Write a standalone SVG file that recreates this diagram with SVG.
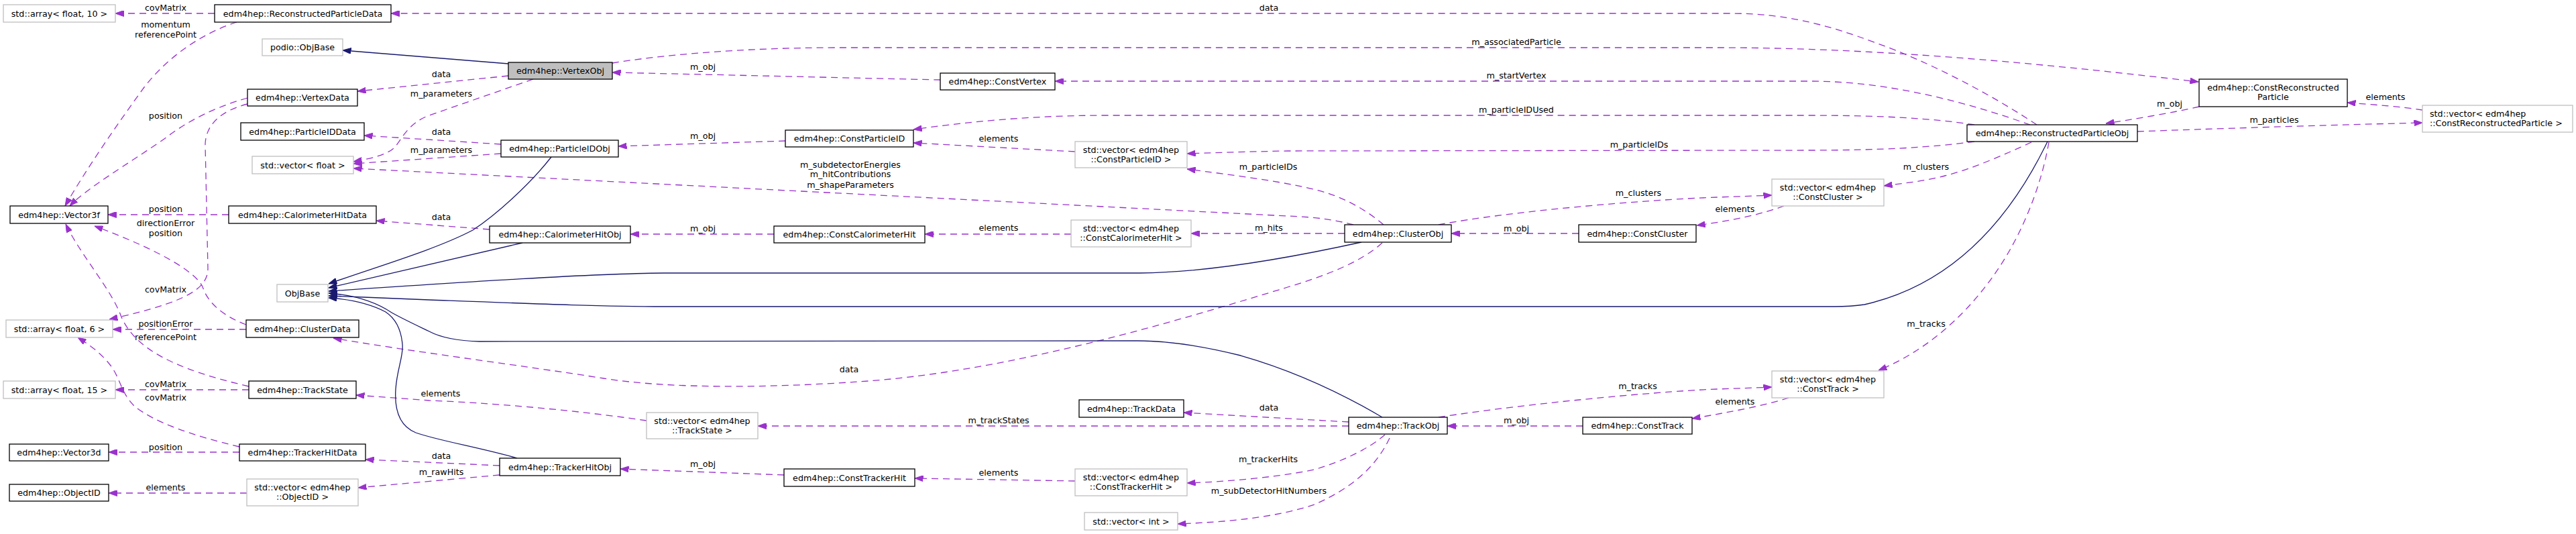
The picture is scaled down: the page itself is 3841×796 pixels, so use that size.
<svg xmlns="http://www.w3.org/2000/svg" width="3841" height="796" viewBox="0 0 3841 796">
<style>
.n rect{fill:#fff;stroke:#000;stroke-width:1.3}
.n.u rect{stroke:#bfbfbf}
.n.g rect{fill:#bfbfbf}
text{font-family:"DejaVu Sans","Liberation Sans",sans-serif;font-size:12.7px;fill:#000;text-anchor:middle}
text.l{text-anchor:start}
.e{fill:none;stroke:#9a32cd;stroke-width:1.3;stroke-dasharray:10,7;marker-end:url(#ap)}
.i{fill:none;stroke:#191970;stroke-width:1.3;marker-end:url(#ab)}
</style>
<defs>
<marker id="ap" markerWidth="12.5" markerHeight="9" refX="12.5" refY="4.5" orient="auto" markerUnits="userSpaceOnUse" viewBox="0 0 12.5 9"><path d="M0,0 L12.5,4.5 L0,9 z" fill="#9a32cd" stroke="#9a32cd" stroke-width="1"/></marker>
<marker id="ab" markerWidth="12.5" markerHeight="9" refX="12.5" refY="4.5" orient="auto" markerUnits="userSpaceOnUse" viewBox="0 0 12.5 9"><path d="M0,0 L12.5,4.5 L0,9 z" fill="#191970" stroke="#191970" stroke-width="1"/></marker>
</defs>
<rect width="3841" height="796" fill="#fff"/>
<g id="connectors">
<path class="e" d="M320,20 L172,20"/>
<path class="e" d="M353,33 C300,50 250,85 215,130 C175,185 130,250 97,307"/>
<path class="e" d="M3037,186 C2960,135 2870,90 2800,65 C2720,35 2660,20 2580,20 L583,20"/>
<path class="i" d="M758,95 L511,75"/>
<path class="e" d="M758,113 L533,136"/>
<path class="e" d="M795,118 L640,172 C610,183 600,205 590,218 C580,230 555,236 527,241"/>
<path class="e" d="M913,94 C980,83 1100,71 1250,71 L2560,71 C2800,71 3050,95 3278,122"/>
<path class="e" d="M1402,119 C1300,117 1100,112 913,108"/>
<path class="e" d="M3027,186 C2940,155 2820,121 2700,121 L1573,121"/>
<path class="e" d="M2944,186 C2880,176 2800,172 2700,172 L1650,172 C1520,172 1420,185 1362,193"/>
<path class="e" d="M2944,211 C2880,220 2800,224 2700,224 L1920,225 C1860,226 1800,228 1770,229"/>
<path class="e" d="M2063,335 C2040,315 2010,298 1980,288 C1930,272 1830,260 1770,252"/>
<path class="e" d="M2018,335 C1985,326 1950,323 1920,322 L527,251"/>
<path class="e" d="M747,215 L543,202"/>
<path class="e" d="M747,229 L527,244"/>
<path class="e" d="M1171,210 L922,218"/>
<path class="e" d="M1603,226 L1362,213"/>
<path class="e" d="M730,342 L561,329"/>
<path class="e" d="M1154,349 L940,349"/>
<path class="e" d="M1597,349 L1379,349"/>
<path class="e" d="M2005,348 L1776,348"/>
<path class="e" d="M2354,348 L2164,348"/>
<path class="e" d="M2660,307 C2630,318 2590,328 2530,336"/>
<path class="e" d="M2145,335 C2250,315 2450,298 2560,294 C2590,293 2620,292 2642,291"/>
<path class="e" d="M3029,212 C2990,230 2940,252 2900,262 C2870,270 2840,273 2809,277"/>
<path class="e" d="M3279,159 C3240,168 3180,178 3140,184"/>
<path class="e" d="M3187,196 C3300,192 3450,187 3612,183"/>
<path class="e" d="M3612,164 C3580,159 3540,156 3500,153"/>
<path class="e" d="M3055,212 C3045,270 3020,340 2980,400 C2940,460 2880,520 2801,552"/>
<path class="e" d="M2145,622 C2300,598 2500,582 2560,580 C2590,579 2620,578 2642,577"/>
<path class="e" d="M2667,593 C2630,605 2580,614 2523,624"/>
<path class="e" d="M2360,635 L2158,635"/>
<path class="e" d="M2011,629 L1765,615"/>
<path class="e" d="M2011,635 L1130,635"/>
<path class="e" d="M964,627 C850,610 720,600 640,597 L531,589"/>
<path class="e" d="M371,576 C260,550 200,520 180,470 C165,430 120,380 98,334"/>
<path class="e" d="M367,484 C330,470 310,450 303,430 C295,405 230,370 141,337"/>
<path class="e" d="M369,155 C330,165 307,185 306,215 L310,400 C310,430 280,450 163,476"/>
<path class="e" d="M369,146 C320,160 280,180 245,207 C190,245 130,280 104,307"/>
<path class="e" d="M341,320 L161,320"/>
<path class="e" d="M367,491 L168,491"/>
<path class="e" d="M371,581 L172,581"/>
<path class="e" d="M357,666 C290,650 230,630 200,605 C180,585 180,565 165,545 C150,525 130,512 116,503"/>
<path class="e" d="M357,674 L162,674"/>
<path class="e" d="M368,735 L162,735"/>
<path class="e" d="M745,694 L545,685"/>
<path class="e" d="M745,708 L534,727"/>
<path class="e" d="M1169,708 L925,699"/>
<path class="e" d="M1603,717 L1364,713"/>
<path class="e" d="M2065,648 C2040,670 2000,688 1960,700 C1900,712 1830,718 1770,720"/>
<path class="e" d="M2072,653 C2050,700 2010,730 1960,752 C1900,772 1830,778 1756,781"/>
<path class="e" d="M2061,362 C2030,390 1980,410 1920,428 C1750,480 1500,555 1280,569 C1150,578 1000,580 900,564 C780,545 620,525 497,504"/>
<path class="i" d="M822,234 C790,275 740,320 705,343 C650,372 560,398 490,423"/>
<path class="i" d="M779,362 L490,429"/>
<path class="i" d="M2030,361 C1930,383 1800,406 1700,407 L990,407 C880,408 700,420 490,434"/>
<path class="i" d="M3053,211 C3010,300 2930,420 2780,454 C2760,457 2745,457 2735,457 L990,457 C900,457 800,453 640,447 C600,445 540,443 490,441"/>
<path class="i" d="M2061,622 C1990,580 1920,550 1850,530 C1790,515 1740,508 1696,508 L715,509 C680,508 655,502 640,494 C615,482 600,475 584,466 C560,450 530,440 490,437"/>
<path class="i" d="M771,683 C720,668 650,656 620,645 C595,635 588,610 590,580 C592,550 602,530 600,513 C598,490 590,475 575,465 C550,452 520,446 490,444"/>
<g id="edge-labels">
<text x="247" y="16.2">covMatrix</text>
<text x="247" y="41.2">momentum</text>
<text x="247" y="56.2">referencePoint</text>
<text x="247" y="177.2">position</text>
<text x="247" y="316.2">position</text>
<text x="247" y="337.2">directionError</text>
<text x="247" y="352.2">position</text>
<text x="247" y="436.2">covMatrix</text>
<text x="247" y="487.2">positionError</text>
<text x="247" y="507.2">referencePoint</text>
<text x="247" y="577.2">covMatrix</text>
<text x="247" y="597.2">covMatrix</text>
<text x="247" y="671.2">position</text>
<text x="247" y="731.2">elements</text>
<text x="658" y="115.2">data</text>
<text x="658" y="143.5">m_parameters</text>
<text x="658" y="201.2">data</text>
<text x="658" y="227.5">m_parameters</text>
<text x="658" y="327.5">data</text>
<text x="658" y="683.8">data</text>
<text x="658" y="707.8">m_rawHits</text>
<text x="657" y="591.2">elements</text>
<text x="1048" y="103.8">m_obj</text>
<text x="1048" y="206.8">m_obj</text>
<text x="1048" y="345.2">m_obj</text>
<text x="1048" y="696.2">m_obj</text>
<text x="1268" y="249.5">m_subdetectorEnergies</text>
<text x="1268" y="263.8">m_hitContributions</text>
<text x="1268" y="279.5">m_shapeParameters</text>
<text x="1266" y="554.8">data</text>
<text x="1489" y="211.2">elements</text>
<text x="1489" y="343.8">elements</text>
<text x="1489" y="631.2">m_trackStates</text>
<text x="1489" y="708.8">elements</text>
<text x="1892" y="16.2">data</text>
<text x="1891" y="252.5">m_particleIDs</text>
<text x="1892" y="343.8">m_hits</text>
<text x="1892" y="612.2">data</text>
<text x="1891" y="689.2">m_trackerHits</text>
<text x="1892" y="736.2">m_subDetectorHitNumbers</text>
<text x="2261" y="67.2">m_associatedParticle</text>
<text x="2261" y="117.2">m_startVertex</text>
<text x="2261" y="167.8">m_particleIDUsed</text>
<text x="2261" y="344.5">m_obj</text>
<text x="2261" y="631.2">m_obj</text>
<text x="2444" y="220.2">m_particleIDs</text>
<text x="2443" y="291.8">m_clusters</text>
<text x="2442" y="579.5">m_tracks</text>
<text x="2587" y="316.2">elements</text>
<text x="2587" y="603.2">elements</text>
<text x="2872" y="252.8">m_clusters</text>
<text x="2872" y="487.2">m_tracks</text>
<text x="3235" y="158.8">m_obj</text>
<text x="3391" y="182.8">m_particles</text>
<text x="3557" y="148.8">elements</text>
</g>
</g>
<g id="n-array10" class="n u"><rect x="5" y="7" width="167" height="26"/><text x="88.5" y="24.5">std::array&lt; float, 10 &gt;</text></g>
<g id="n-RPD" class="n"><rect x="320" y="7" width="263" height="26"/><text x="451.5" y="24.5">edm4hep::ReconstructedParticleData</text></g>
<g id="n-podioObjBase" class="n u"><rect x="391" y="58" width="120" height="25"/><text x="451" y="75">podio::ObjBase</text></g>
<g id="n-VertexObj" class="n g"><rect x="758" y="93" width="155" height="25"/><text x="835.5" y="110">edm4hep::VertexObj</text></g>
<g id="n-ConstVertex" class="n"><rect x="1402" y="109" width="171" height="25"/><text x="1487.5" y="126">edm4hep::ConstVertex</text></g>
<g id="n-VertexData" class="n"><rect x="369" y="133" width="164" height="25"/><text x="451" y="150">edm4hep::VertexData</text></g>
<g id="n-CRP" class="n"><rect x="3279" y="118" width="221" height="41"/><text x="3389.5" y="135">edm4hep::ConstReconstructed</text><text x="3389.5" y="149">Particle</text></g>
<g id="n-vecCRP" class="n u"><rect x="3612" y="157" width="224" height="40"/><text class="l" x="3623" y="174">std::vector&lt; edm4hep</text><text class="l" x="3623" y="188">::ConstReconstructedParticle &gt;</text></g>
<g id="n-RPObj" class="n"><rect x="2933" y="186" width="254" height="25"/><text x="3060" y="203">edm4hep::ReconstructedParticleObj</text></g>
<g id="n-ParticleIDData" class="n"><rect x="359" y="183" width="184" height="26"/><text x="451" y="200.5">edm4hep::ParticleIDData</text></g>
<g id="n-ParticleIDObj" class="n"><rect x="747" y="209" width="175" height="25"/><text x="834.5" y="226">edm4hep::ParticleIDObj</text></g>
<g id="n-ConstParticleID" class="n"><rect x="1171" y="194" width="191" height="25"/><text x="1266.5" y="211">edm4hep::ConstParticleID</text></g>
<g id="n-vecCPID" class="n u"><rect x="1603" y="211" width="167" height="39"/><text x="1686.5" y="227.5">std::vector&lt; edm4hep</text><text x="1686.5" y="241.5">::ConstParticleID &gt;</text></g>
<g id="n-vecFloat" class="n u"><rect x="376" y="233" width="151" height="26"/><text x="451.5" y="250.5">std::vector&lt; float &gt;</text></g>
<g id="n-vecCC" class="n u"><rect x="2642" y="267" width="167" height="40"/><text x="2725.5" y="284">std::vector&lt; edm4hep</text><text x="2725.5" y="298">::ConstCluster &gt;</text></g>
<g id="n-Vector3f" class="n"><rect x="15" y="307" width="146" height="26"/><text x="88" y="324.5">edm4hep::Vector3f</text></g>
<g id="n-CaloHitData" class="n"><rect x="341" y="307" width="220" height="26"/><text x="451" y="324.5">edm4hep::CalorimeterHitData</text></g>
<g id="n-CaloHitObj" class="n"><rect x="730" y="337" width="210" height="25"/><text x="835" y="354">edm4hep::CalorimeterHitObj</text></g>
<g id="n-ConstCaloHit" class="n"><rect x="1154" y="337" width="225" height="25"/><text x="1266.5" y="354">edm4hep::ConstCalorimeterHit</text></g>
<g id="n-vecCCH" class="n u"><rect x="1597" y="328" width="179" height="40"/><text x="1686.5" y="345">std::vector&lt; edm4hep</text><text x="1686.5" y="359">::ConstCalorimeterHit &gt;</text></g>
<g id="n-ClusterObj" class="n"><rect x="2005" y="335" width="159" height="26"/><text x="2084.5" y="352.5">edm4hep::ClusterObj</text></g>
<g id="n-ConstCluster" class="n"><rect x="2354" y="335" width="175" height="26"/><text x="2441.5" y="352.5">edm4hep::ConstCluster</text></g>
<g id="n-ObjBase" class="n u"><rect x="413" y="424" width="76" height="26"/><text x="451" y="441.5">ObjBase</text></g>
<g id="n-array6" class="n u"><rect x="9" y="477" width="159" height="26"/><text x="88.5" y="494.5">std::array&lt; float, 6 &gt;</text></g>
<g id="n-ClusterData" class="n"><rect x="367" y="477" width="168" height="26"/><text x="451" y="494.5">edm4hep::ClusterData</text></g>
<g id="n-vecCT" class="n u"><rect x="2642" y="553" width="167" height="40"/><text x="2725.5" y="570">std::vector&lt; edm4hep</text><text x="2725.5" y="584">::ConstTrack &gt;</text></g>
<g id="n-array15" class="n u"><rect x="5" y="568" width="167" height="26"/><text x="88.5" y="585.5">std::array&lt; float, 15 &gt;</text></g>
<g id="n-TrackState" class="n"><rect x="371" y="568" width="160" height="26"/><text x="451" y="585.5">edm4hep::TrackState</text></g>
<g id="n-TrackData" class="n"><rect x="1609" y="596" width="156" height="26"/><text x="1687" y="613.5">edm4hep::TrackData</text></g>
<g id="n-vecTS" class="n u"><rect x="964" y="615" width="166" height="39"/><text x="1047" y="631.5">std::vector&lt; edm4hep</text><text x="1047" y="645.5">::TrackState &gt;</text></g>
<g id="n-TrackObj" class="n"><rect x="2011" y="622" width="147" height="25"/><text x="2084.5" y="639">edm4hep::TrackObj</text></g>
<g id="n-ConstTrack" class="n"><rect x="2360" y="622" width="163" height="25"/><text x="2441.5" y="639">edm4hep::ConstTrack</text></g>
<g id="n-Vector3d" class="n"><rect x="14" y="662" width="148" height="25"/><text x="88" y="679">edm4hep::Vector3d</text></g>
<g id="n-TrackerHitData" class="n"><rect x="357" y="662" width="188" height="25"/><text x="451" y="679">edm4hep::TrackerHitData</text></g>
<g id="n-TrackerHitObj" class="n"><rect x="745" y="683" width="180" height="26"/><text x="835" y="700.5">edm4hep::TrackerHitObj</text></g>
<g id="n-ConstTrackerHit" class="n"><rect x="1169" y="699" width="195" height="26"/><text x="1266.5" y="716.5">edm4hep::ConstTrackerHit</text></g>
<g id="n-vecCTH" class="n u"><rect x="1603" y="699" width="167" height="40"/><text x="1686.5" y="716">std::vector&lt; edm4hep</text><text x="1686.5" y="730">::ConstTrackerHit &gt;</text></g>
<g id="n-ObjectID" class="n"><rect x="14" y="722" width="148" height="25"/><text x="88" y="739">edm4hep::ObjectID</text></g>
<g id="n-vecOID" class="n u"><rect x="368" y="714" width="166" height="40"/><text x="451" y="731">std::vector&lt; edm4hep</text><text x="451" y="745">::ObjectID &gt;</text></g>
<g id="n-vecInt" class="n u"><rect x="1617" y="764" width="139" height="26"/><text x="1686.5" y="781.5">std::vector&lt; int &gt;</text></g>
</svg>
